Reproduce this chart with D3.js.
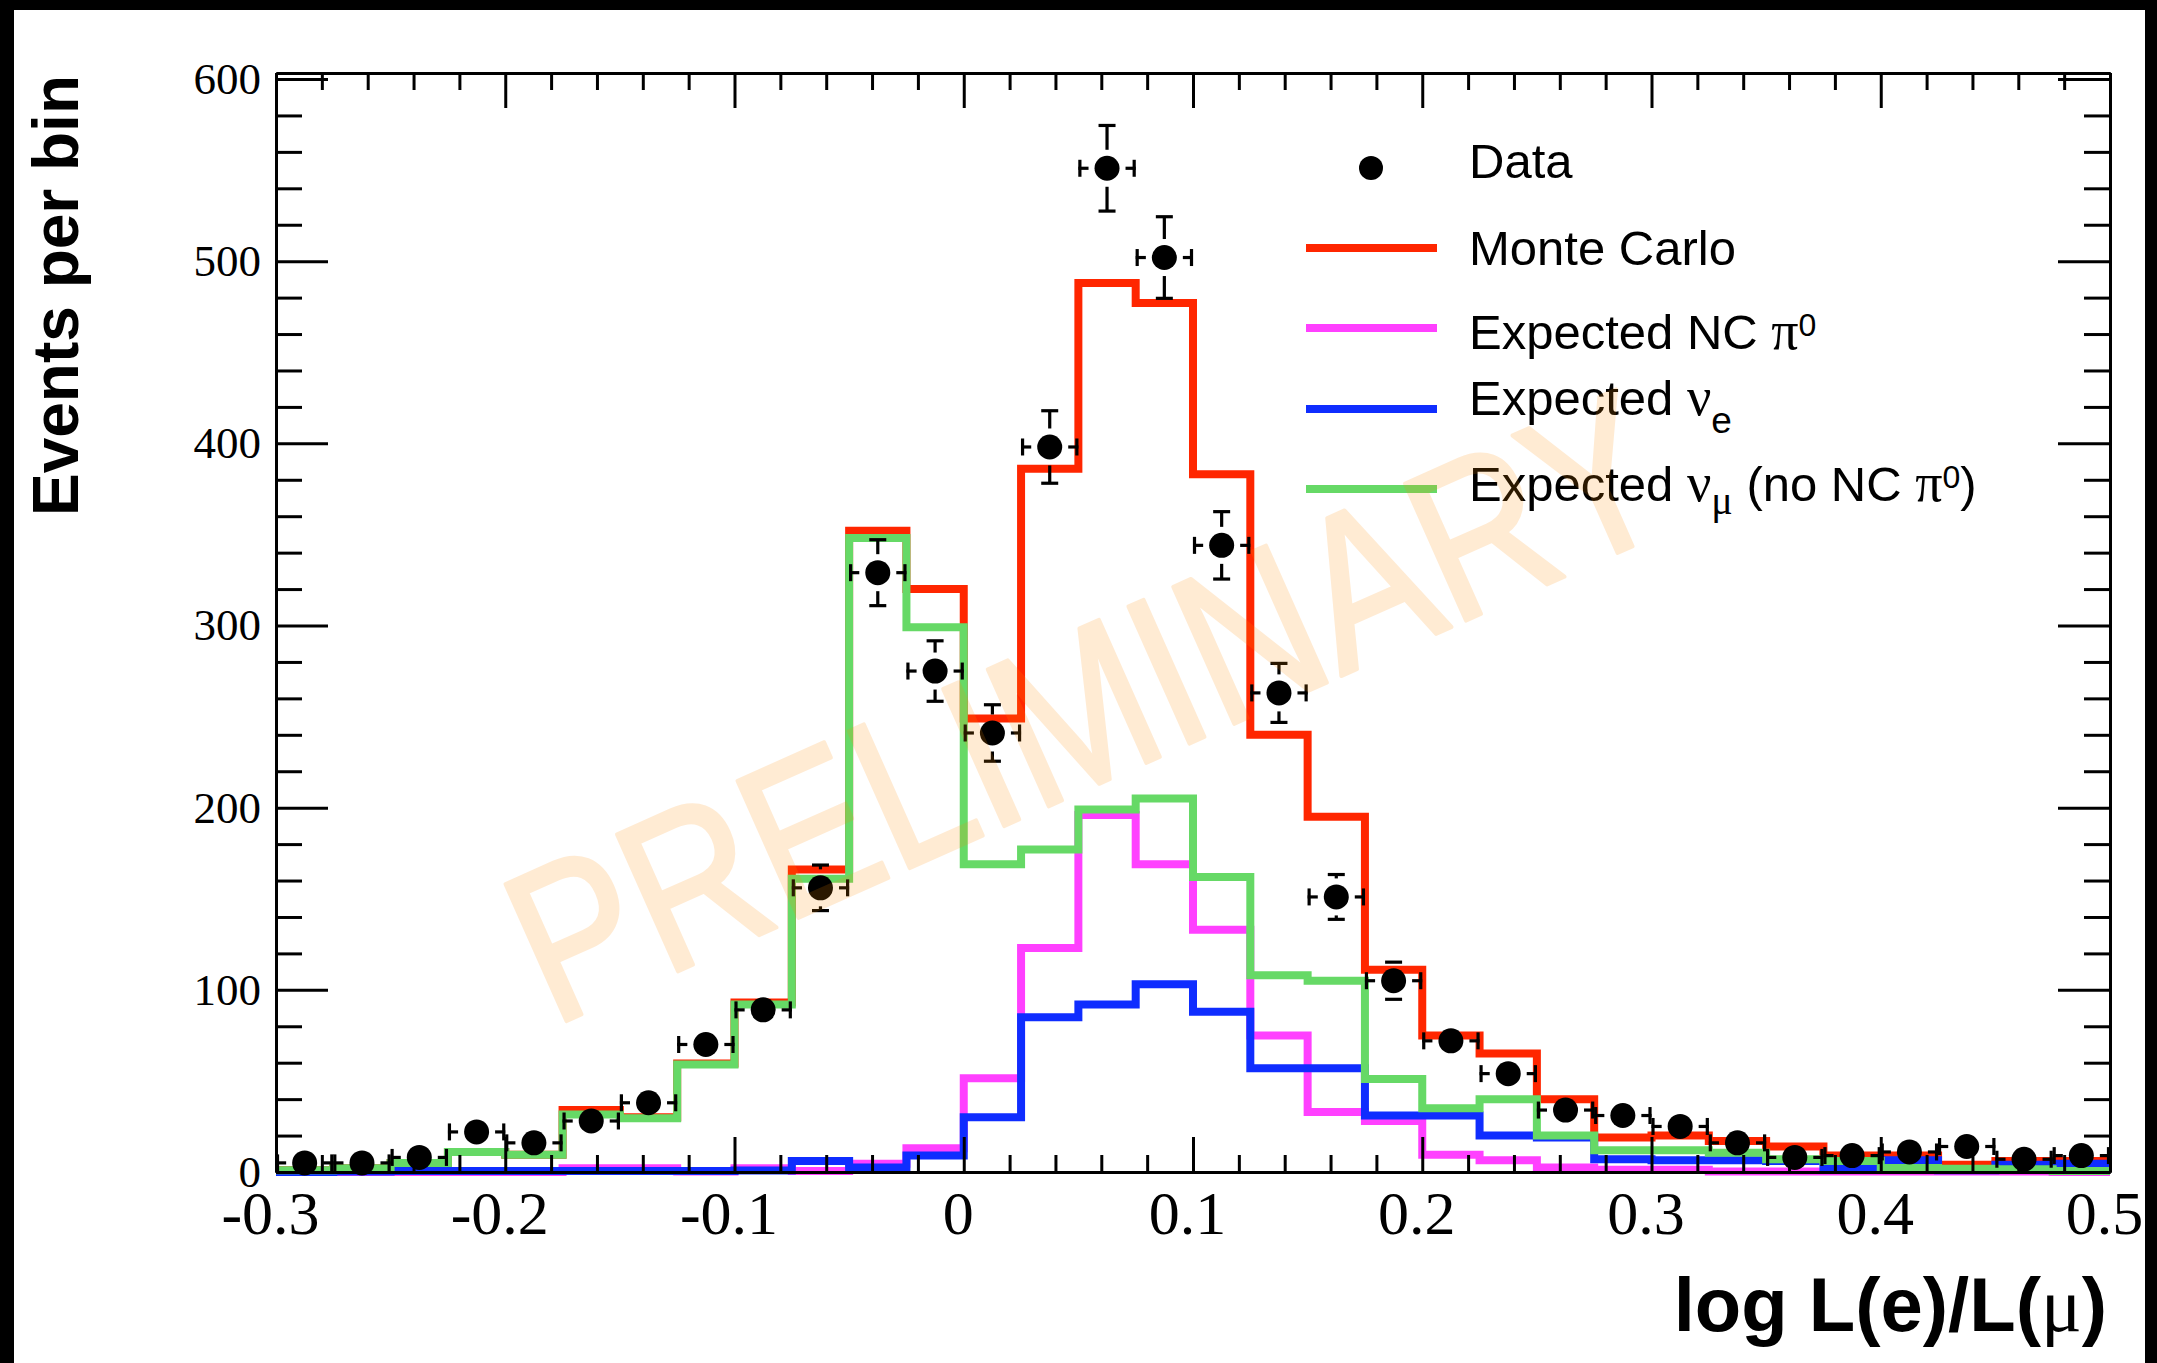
<!DOCTYPE html>
<html><head><meta charset="utf-8">
<script src="https://cdn.jsdelivr.net/npm/d3@7"></script>
<style>body{margin:0;background:#fff;overflow:hidden}svg{display:block}</style>
</head><body>
<script>
// ---------------- data ----------------
const binLow = [-0.3,-0.275,-0.25,-0.225,-0.2,-0.175,-0.15,-0.125,-0.1,-0.075,-0.05,-0.025,
  0,0.025,0.05,0.075,0.1,0.125,0.15,0.175,0.2,0.225,0.25,0.275,0.3,0.325,0.35,0.375,0.4,0.425,0.45,0.475];
const binWidth = 0.025;
const dataCounts = [5,5,8,22,16,28,38,70,89,156,329,275,241,398,551,502,344,263,151,105,72,54,34,31,25,16,8,9,11,14,7,9];
const dataErrors = [2.2,2.2,2.8,4.7,4.0,5.3,6.2,8.4,9.4,12.5,18.1,16.6,15.5,19.9,23.5,22.4,18.5,16.2,12.3,10.2,8.5,7.3,5.8,5.6,5.0,4.0,2.8,3.0,3.3,3.7,2.6,3.0];
const monteCarlo = [1,2,5,11,9.5,34,30,59.5,93,166,352,320,249,386,488,477,383,240,195,111,75,65,40,19,20,17,14,9,9,4,6,6];
const expectedNCpi0 = [0,0,0,0,0,2,2,0.3,2,0.5,4.5,13,51.5,123,196,169,133,75,33,28,9.5,6.5,2.5,1.2,1.2,0.3,0.3,0.3,0.3,0.3,0.3,0];
const expectedNuE = [0,0.3,0.6,0.6,0.6,0.6,0.6,0.6,0.8,6,2.5,9,30,85,92,103,88,57,57,31,31,20,19,7,6.5,6.5,6,2,6.5,1,4,4.5];
const expectedNuMu = [1,2,5,11,9.5,31.5,29.5,59,92,161,348,299,169,177,199,205,162,108,105,51,35,40,20,12,12,10.5,7,6,2.2,1.8,1.5,0.5];
const xTickValues = [-0.3,-0.2,-0.1,0,0.1,0.2,0.3,0.4,0.5];
const xTickLabels = ["-0.3","-0.2","-0.1","0","0.1","0.2","0.3","0.4","0.5"];
const xMinorTicks = [-0.28,-0.26,-0.24,-0.22,-0.18,-0.16,-0.14,-0.12,-0.08,-0.06,-0.04,-0.02,
  0.02,0.04,0.06,0.08,0.12,0.14,0.16,0.18,0.22,0.24,0.26,0.28,0.32,0.34,0.36,0.38,0.42,0.44,0.46,0.48];
const yTickValues = [0,100,200,300,400,500,600];
const yTickLabels = ["0","100","200","300","400","500","600"];
const yMinorTicks = [20,40,60,80,120,140,160,180,220,240,260,280,320,340,360,380,420,440,460,480,520,540,560,580];
const xDomain = [-0.3, 0.5];
const yDomain = [0, 603.3];

// ---------------- setup ----------------
const W = 2157, H = 1363;
const svg = d3.select("body").append("svg").attr("width", W).attr("height", H);
svg.append("rect").attr("width", W).attr("height", H).attr("fill", "#fff");

const frameL = 276, frameR = 2110, frameT = 73, frameB = 1172;
const x = d3.scaleLinear().domain(xDomain).range([frameL, frameR]);
const y = d3.scaleLinear().domain(yDomain).range([frameB, frameT]);

const SANS = "'Liberation Sans', Arial, Helvetica, sans-serif";
const SERIF = "'Liberation Serif', 'Times New Roman', serif";

// ---------------- histograms ----------------
const series = [
  {vals: monteCarlo, color: "#ff2600"},
  {vals: expectedNCpi0, color: "#ff40ff"},
  {vals: expectedNuE, color: "#0f2dff"},
  {vals: expectedNuMu, color: "#66d966"}
];
const stepLine = d3.line().curve(d3.curveStepAfter).x(d => x(d[0])).y(d => y(d[1]));
series.forEach(s => {
  const pts = binLow.map((b, i) => [b, s.vals[i]]);
  pts.push([binLow[binLow.length - 1] + binWidth, s.vals[s.vals.length - 1]]);
  svg.append("path").attr("d", stepLine(pts)).attr("fill", "none")
    .attr("stroke", s.color).attr("stroke-width", 8).attr("stroke-linejoin", "miter")
    .attr("stroke-linecap", "butt");
});

// ---------------- data points with error bars ----------------
const R = 12.5, GAP = 6, CAP = 8.5;
const gPts = svg.append("g").attr("stroke", "#000").attr("stroke-width", 3.2);
dataCounts.forEach((n, i) => {
  const cx = x(binLow[i] + binWidth / 2), cy = y(n);
  const xl = x(binLow[i]), xr = x(binLow[i] + binWidth);
  gPts.append("line").attr("x1", cx - R - GAP).attr("x2", xl).attr("y1", cy).attr("y2", cy);
  gPts.append("line").attr("x1", cx + R + GAP).attr("x2", xr).attr("y1", cy).attr("y2", cy);
  gPts.append("line").attr("x1", xl + 1.5).attr("x2", xl + 1.5).attr("y1", cy - CAP).attr("y2", cy + CAP);
  gPts.append("line").attr("x1", xr - 1.5).attr("x2", xr - 1.5).attr("y1", cy - CAP).attr("y2", cy + CAP);
  const yt = y(n + dataErrors[i]), yb = y(n - dataErrors[i]);
  if (cy - yt >= R + GAP - 0.5) {
    gPts.append("line").attr("x1", cx).attr("x2", cx).attr("y1", cy - R - GAP).attr("y2", yt);
    gPts.append("line").attr("x1", cx - CAP).attr("x2", cx + CAP).attr("y1", yt).attr("y2", yt);
    gPts.append("line").attr("x1", cx).attr("x2", cx).attr("y1", cy + R + GAP).attr("y2", yb);
    gPts.append("line").attr("x1", cx - CAP).attr("x2", cx + CAP).attr("y1", yb).attr("y2", yb);
  }
});
svg.append("g").selectAll("circle").data(dataCounts).join("circle")
  .attr("cx", (d, i) => x(binLow[i] + binWidth / 2)).attr("cy", d => y(d))
  .attr("r", R).attr("fill", "#000");

// ---------------- axes ----------------
function styleAxis(g) {
  g.selectAll("path.domain").attr("stroke", "#000").attr("stroke-width", 3);
  g.selectAll(".tick line").attr("stroke", "#000").attr("stroke-width", 3);
}
const gB = svg.append("g").attr("transform", `translate(0,${frameB})`)
  .call(d3.axisBottom(x).tickValues(xTickValues).tickFormat((d, i) => xTickLabels[i])
    .tickSizeInner(-35).tickSizeOuter(0).tickPadding(18));
styleAxis(gB);
gB.attr("font-family", SERIF).attr("font-size", 62);
gB.selectAll("text").attr("fill", "#000").attr("dx", -6);
const gBm = svg.append("g").attr("transform", `translate(0,${frameB})`)
  .call(d3.axisBottom(x).tickValues(xMinorTicks).tickFormat("").tickSizeInner(-17).tickSizeOuter(0));
styleAxis(gBm);
const gT = svg.append("g").attr("transform", `translate(0,${frameT})`)
  .call(d3.axisTop(x).tickValues(xTickValues).tickFormat("").tickSizeInner(-35).tickSizeOuter(0));
styleAxis(gT);
const gTm = svg.append("g").attr("transform", `translate(0,${frameT})`)
  .call(d3.axisTop(x).tickValues(xMinorTicks).tickFormat("").tickSizeInner(-17).tickSizeOuter(0));
styleAxis(gTm);
const gL = svg.append("g").attr("transform", `translate(${frameL},0)`)
  .call(d3.axisLeft(y).tickValues(yTickValues).tickFormat((d, i) => yTickLabels[i])
    .tickSizeInner(-52).tickSizeOuter(0).tickPadding(15));
styleAxis(gL);
gL.attr("font-family", SERIF).attr("font-size", 45);
gL.selectAll("text").attr("fill", "#000");
const gLm = svg.append("g").attr("transform", `translate(${frameL},0)`)
  .call(d3.axisLeft(y).tickValues(yMinorTicks).tickFormat("").tickSizeInner(-26).tickSizeOuter(0));
styleAxis(gLm);
const gR = svg.append("g").attr("transform", `translate(${frameR},0)`)
  .call(d3.axisRight(y).tickValues(yTickValues).tickFormat("").tickSizeInner(-52).tickSizeOuter(0));
styleAxis(gR);
const gRm = svg.append("g").attr("transform", `translate(${frameR},0)`)
  .call(d3.axisRight(y).tickValues(yMinorTicks).tickFormat("").tickSizeInner(-26).tickSizeOuter(0));
styleAxis(gRm);

// ---------------- axis titles ----------------
svg.append("text").attr("transform", "translate(78,75) rotate(-90)")
  .attr("text-anchor", "end").attr("font-family", SANS).attr("font-weight", "bold")
  .attr("font-size", 64).attr("fill", "#000").text("Events per bin");

const xt = svg.append("text").attr("x", 2107).attr("y", 1331).attr("text-anchor", "end")
  .attr("font-family", SANS).attr("font-weight", "bold").attr("font-size", 76).attr("fill", "#000");
xt.append("tspan").text("log L(e)/L(");
xt.append("tspan").attr("font-family", SERIF).attr("font-weight", "normal").text("μ");
xt.append("tspan").text(")");

// ---------------- legend ----------------
const legendItems = [
  {type: "marker", y: 168, base: 178, parts: [["Data"]]},
  {type: "line", color: "#ff2600", y: 248, base: 265, parts: [["Monte Carlo"]]},
  {type: "line", color: "#ff40ff", y: 328, base: 349, parts: [["Expected NC "], ["π", "greek"], ["0", "sup"]]},
  {type: "line", color: "#0f2dff", y: 409, base: 415, parts: [["Expected "], ["ν", "greek"], ["e", "sub"]]},
  {type: "line", color: "#66d966", y: 489, base: 501, parts: [["Expected "], ["ν", "greek"], ["μ", "subgreek"], [" (no NC "], ["π", "greek"], ["0", "sup"], [")"]]}
];
const gLeg = svg.append("g");
legendItems.forEach(it => {
  if (it.type === "marker") {
    gLeg.append("circle").attr("cx", 1371).attr("cy", it.y).attr("r", 12).attr("fill", "#000");
  } else {
    gLeg.append("line").attr("x1", 1306).attr("x2", 1437).attr("y1", it.y).attr("y2", it.y)
      .attr("stroke", it.color).attr("stroke-width", 8);
  }
  const t = gLeg.append("text").attr("x", 1469).attr("y", it.base)
    .attr("font-family", SANS).attr("font-size", 49).attr("fill", "#000");
  let shift = 0;
  it.parts.forEach(([txt, kind]) => {
    const sp = t.append("tspan").text(txt);
    let target = 0;
    if (kind === "greek") { sp.attr("font-family", SERIF).attr("font-size", 54); }
    else if (kind === "sup") { sp.attr("font-size", 32); target = -13; }
    else if (kind === "sub") { sp.attr("font-size", 37); target = 18; }
    else if (kind === "subgreek") { sp.attr("font-family", SERIF).attr("font-size", 40); target = 13; }
    sp.attr("dy", target - shift);
    shift = target;
  });
});

// ---------------- watermark ----------------
svg.append("g").attr("opacity", 0.17)
  .append("text").attr("transform", "translate(1086,707) rotate(-24)")
  .attr("text-anchor", "middle").attr("dominant-baseline", "central")
  .attr("font-family", SANS).attr("font-size", 218)
  .attr("textLength", 1235).attr("lengthAdjust", "spacingAndGlyphs")
  .attr("fill", "#ff8c00").attr("stroke", "#ff8c00").attr("stroke-width", 4)
  .attr("stroke-linejoin", "round").text("PRELIMINARY");

// ---------------- outer black border ----------------
svg.append("rect").attr("x", 0).attr("y", 0).attr("width", W).attr("height", 10).attr("fill", "#000");
svg.append("rect").attr("x", 0).attr("y", 0).attr("width", 14).attr("height", H).attr("fill", "#000");
svg.append("rect").attr("x", W - 12).attr("y", 0).attr("width", 12).attr("height", H).attr("fill", "#000");
</script>
</body></html>
